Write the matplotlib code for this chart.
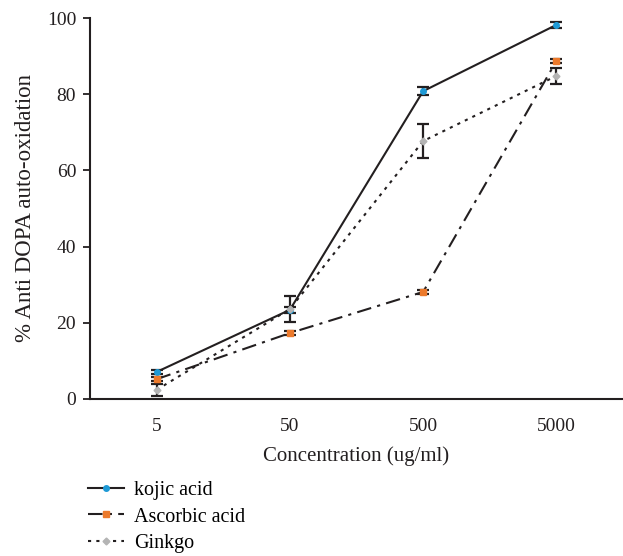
import matplotlib
matplotlib.use("Agg")
import matplotlib.pyplot as plt
from matplotlib.lines import Line2D

# Datos
concentraciones = ["5", "50", "500", "5000"]
kojic = [7.1, 23.4, 80.8, 98.2]
kojic_err = [0.6, 0.8, 1.0, 0.8]
ascorbico = [5.2, 17.3, 28.1, 88.7]
ascorbico_err = [0.5, 0.5, 0.5, 0.6]
ginkgo = [2.4, 23.6, 67.7, 84.8]
ginkgo_err = [1.6, 3.5, 4.5, 2.2]

plt.rcParams["font.family"] = ["Liberation Serif", "DejaVu Serif"]

fig = plt.figure(figsize=(6.23, 5.56), dpi=100)
ax = fig.add_axes([0.1445, 0.2824, 0.8555, 0.6852])

x = range(len(concentraciones))
negro = "#231f20"

series = [
    ("kojic acid", kojic, kojic_err, "-", "o", "#1e9ad6", 4),
    ("Ascorbic acid", ascorbico, ascorbico_err, (0, (7, 3, 1.5, 3)), "s", "#ec7a2c", 4.5),
    ("Ginkgo", ginkgo, ginkgo_err, (0, (1.5, 2.5)), "D", "#b4b4b4", 3.5),
]

handles = []
for nombre, vals, err, estilo, marca, color, tam in series:
    ax.errorbar(x, vals, yerr=err, color=negro, linestyle=estilo, linewidth=1.5,
                marker=marca, markersize=tam, markerfacecolor=color,
                markeredgecolor=color, ecolor=negro, elinewidth=1.6,
                capsize=4, capthick=1.6)
    handles.append(Line2D([], [], color=negro, linestyle=estilo, linewidth=1.5,
                          marker=marca, markersize=tam, markerfacecolor=color,
                          markeredgecolor=color, label=nombre))

ax.set_xlim(-0.5, 3.5)
ax.set_ylim(0, 100)
ax.set_xticks(list(x))
ax.set_xticklabels(concentraciones)
ax.set_yticks([0, 20, 40, 60, 80, 100])
ax.tick_params(axis="x", length=0, pad=14, labelsize=14, colors=negro)
ax.tick_params(axis="y", length=5, width=1.3, direction="out", pad=5,
               labelsize=14, colors=negro)
ax.spines["top"].set_visible(False)
ax.spines["right"].set_visible(False)
ax.spines["left"].set_linewidth(1.5)
ax.spines["bottom"].set_linewidth(1.5)
ax.spines["left"].set_color(negro)
ax.spines["bottom"].set_color(negro)
ax.set_xlabel("Concentration (ug/ml)", fontsize=15, color=negro, labelpad=8)
ax.set_ylabel("% Anti DOPA auto-oxidation", fontsize=16.5, color=negro, labelpad=8)

fig.legend(handles=handles, loc="upper left", bbox_to_anchor=(0.128, 0.15),
           frameon=False, fontsize=14.5, handlelength=1.8, handletextpad=0.5,
           labelspacing=0.38, borderaxespad=0)

fig.savefig("out.png", dpi=100)
